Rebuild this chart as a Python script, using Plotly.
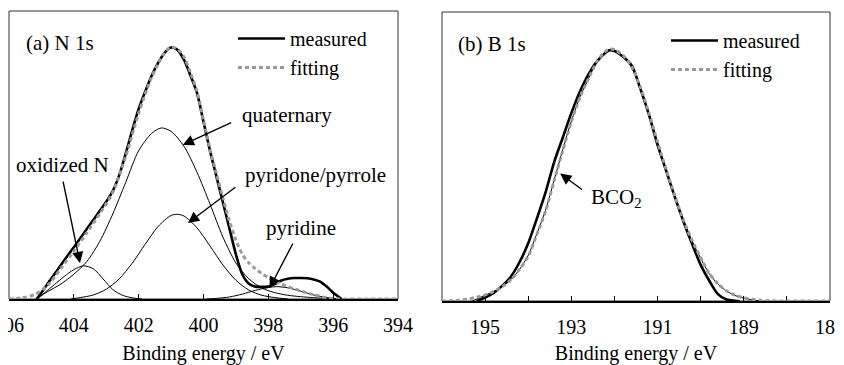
import plotly.graph_objects as go

# ---------------- N 1s (panel a) ----------------
n_meas_e = [405.15, 405.0, 404.8, 404.6, 404.4, 404.2, 404.0, 403.8, 403.6, 403.4, 403.2,
            403.0, 402.8, 402.6, 402.4, 402.2, 402.0, 401.8, 401.6, 401.4, 401.2, 401.0,
            400.8, 400.6, 400.4, 400.2, 400.0, 399.8, 399.6, 399.4, 399.2, 399.0, 398.8,
            398.6, 398.4, 398.2, 398.0, 397.8, 397.6, 397.4, 397.2, 397.0, 396.8, 396.6,
            396.4, 396.2, 396.0, 395.8, 395.74]
n_meas_i = [0.0, 2.2, 5.5, 8.6, 11.8, 14.9, 18.0, 21.1, 24.3, 27.4, 30.6,
            33.8, 37.5, 43.0, 50.5, 58.5, 66.0, 72.0, 77.5, 82.0, 85.5, 87.3,
            86.5, 83.0, 77.5, 71.5, 61.5, 51.5, 42.5, 33.5, 24.5, 15.5, 8.5,
            5.3, 4.3, 4.2, 4.3, 5.2, 6.4, 7.0, 7.3, 7.3, 7.2, 6.8,
            6.0, 4.3, 2.2, 0.5, 0.0]

n_fit_e = [406.0, 405.6, 405.2, 404.8, 404.4, 404.0, 403.6, 403.2, 402.8, 402.4, 402.0,
           401.6, 401.2, 401.0, 400.8, 400.6, 400.4, 400.2, 400.0, 399.8, 399.6, 399.4,
           399.2, 399.0, 398.8, 398.6, 398.4, 398.2, 398.0, 397.8, 397.6, 397.4, 397.2,
           397.0, 396.8, 396.6, 396.4, 396.2, 396.0, 395.6, 395.0, 394.5, 394.0]
n_fit_i = [0.0, 0.4, 1.6, 4.8, 10.6, 16.6, 23.0, 29.6, 37.0, 49.5, 64.5,
           77.0, 85.5, 87.5, 86.8, 84.0, 78.5, 72.0, 62.0, 52.0, 43.5, 35.0,
           27.0, 20.5, 15.5, 12.5, 10.5, 8.8, 7.4, 6.2, 5.2, 4.3, 3.5,
           2.8, 2.1, 1.5, 0.9, 0.4, 0.1, 0.0, 0.0, 0.0, 0.0]

n_quat_e = [405.15, 404.8, 404.4, 404.0, 403.6, 403.2, 402.8, 402.4, 402.0, 401.6, 401.3,
            401.0, 400.6, 400.2, 399.8, 399.4, 399.0, 398.6, 398.2, 397.8, 397.4, 397.0,
            396.6, 396.2, 395.8]
n_quat_i = [0.0, 2.6, 5.2, 8.6, 13.0, 20.0, 29.5, 40.5, 51.5, 57.5, 59.4,
            58.2, 53.0, 44.0, 33.0, 21.5, 12.5, 7.0, 3.8, 2.2, 1.3, 0.8,
            0.45, 0.2, 0.0]

n_oxid_e = [405.15, 404.9, 404.6, 404.3, 404.0, 403.7, 403.4, 403.1, 402.8, 402.5, 402.2, 401.9]
n_oxid_i = [0.0, 2.2, 5.0, 7.8, 10.2, 11.5, 10.5, 7.0, 3.3, 1.3, 0.4, 0.0]

n_pyrd_e = [404.1, 403.8, 403.4, 403.0, 402.6, 402.2, 401.8, 401.4, 401.0, 400.8, 400.6,
            400.2, 399.8, 399.4, 399.0, 398.6, 398.2, 397.8, 397.4]
n_pyrd_i = [0.0, 0.5, 1.4, 3.4, 7.0, 12.4, 19.0, 25.2, 29.0, 29.4, 28.8,
            24.7, 18.4, 11.8, 6.5, 3.1, 1.3, 0.5, 0.0]

n_pyri_e = [399.9, 399.6, 399.2, 398.8, 398.4, 398.0, 397.75, 397.4, 397.0, 396.6, 396.2, 395.8]
n_pyri_i = [0.0, 0.2, 0.7, 1.7, 3.0, 4.0, 4.3, 3.9, 2.7, 1.4, 0.5, 0.0]

n_tickvals = [406, 404, 402, 400, 398, 396, 394]
n_ticktext = ["406", "404", "402", "400", "398", "396", "394"]

# ---------------- B 1s (panel b) ----------------
b_meas_e = [195.2, 195.0, 194.8, 194.6, 194.4, 194.2, 194.0, 193.8, 193.6, 193.4, 193.2,
            193.0, 192.8, 192.6, 192.4, 192.2, 192.1, 192.0, 191.8, 191.6, 191.4, 191.2,
            191.0, 190.8, 190.6, 190.4, 190.2, 190.0, 189.8, 189.6, 189.4, 189.2, 189.1]
b_meas_i = [0.0, 1.2, 2.8, 5.3, 8.5, 13.5, 20.0, 28.5, 37.5, 48.0, 56.5,
            65.0, 72.5, 78.5, 83.0, 86.0, 86.8, 86.5, 84.5, 81.5, 73.5, 64.5,
            54.0, 45.0, 36.0, 27.5, 19.8, 12.5, 7.0, 2.4, 0.5, 0.1, 0.0]

b_fit_e = [196.0, 195.8, 195.6, 195.4, 195.2, 195.0, 194.8, 194.6, 194.4, 194.2, 194.0,
           193.8, 193.6, 193.4, 193.2, 193.0, 192.8, 192.6, 192.4, 192.2, 192.1, 192.0,
           191.8, 191.6, 191.4, 191.2, 191.0, 190.8, 190.6, 190.4, 190.2, 190.0, 189.8,
           189.6, 189.4, 189.2, 189.0, 188.8, 188.6, 188.4, 188.0, 187.5, 187.0]
b_fit_i = [0.0, 0.1, 0.3, 0.7, 1.3, 2.1, 3.3, 5.0, 7.4, 11.0, 15.5,
           23.0, 31.0, 41.5, 52.0, 62.0, 70.5, 77.0, 83.0, 86.5, 87.2, 87.0,
           85.0, 81.0, 74.0, 65.0, 55.0, 45.5, 36.5, 28.0, 21.0, 15.0, 9.5,
           6.0, 3.5, 2.0, 1.1, 0.6, 0.3, 0.1, 0.0, 0.0, 0.0]

b_bco2_e = [195.3, 195.0, 194.8, 194.6, 194.4, 194.2, 194.0, 193.8, 193.6, 193.4, 193.2,
            193.0, 192.8, 192.6, 192.4, 192.2, 192.1, 192.0, 191.8, 191.6, 191.4, 191.2,
            191.0, 190.8, 190.6, 190.4, 190.2, 190.0, 189.8, 189.6, 189.4, 189.2, 189.0,
            188.8, 188.6]
b_bco2_i = [0.0, 2.0, 3.3, 5.0, 7.4, 11.0, 15.8, 23.3, 31.3, 41.8, 52.3,
            62.2, 70.6, 77.0, 83.0, 86.4, 87.0, 86.8, 84.8, 80.8, 73.8, 64.8,
            54.8, 45.3, 36.3, 27.8, 20.8, 14.8, 9.4, 5.9, 3.4, 1.9, 1.0,
            0.4, 0.0]

b_tickvals = [196, 195, 194, 193, 192, 191, 190, 189, 188, 187]
b_ticktext = ["", "195", "", "193", "", "191", "", "189", "", "187"]

FONT = "Liberation Serif, Times New Roman, serif"
GRAY = "#9a9a9a"

fig = go.Figure()


def thin(x, y, xa, ya):
    fig.add_trace(go.Scatter(x=x, y=y, mode="lines", xaxis=xa, yaxis=ya,
                             line=dict(color="black", width=1, shape="spline", smoothing=0.8),
                             showlegend=False, hoverinfo="skip"))


# panel a components
thin(n_quat_e, n_quat_i, "x", "y")
thin(n_oxid_e, n_oxid_i, "x", "y")
thin(n_pyrd_e, n_pyrd_i, "x", "y")
thin(n_pyri_e, n_pyri_i, "x", "y")
fig.add_trace(go.Scatter(x=n_meas_e, y=n_meas_i, mode="lines", name="measured",
                         line=dict(color="black", width=2.6, shape="spline", smoothing=0.8),
                         xaxis="x", yaxis="y", legend="legend", legendgroup="m1"))
fig.add_trace(go.Scatter(x=n_fit_e, y=n_fit_i, mode="lines", name="fitting",
                         line=dict(color=GRAY, width=3, dash="4px,3px", shape="spline", smoothing=0.8),
                         xaxis="x", yaxis="y", legend="legend", legendgroup="f1"))

# panel b
thin(b_bco2_e, b_bco2_i, "x2", "y2")
fig.add_trace(go.Scatter(x=b_meas_e, y=b_meas_i, mode="lines", name="measured",
                         line=dict(color="black", width=2.6, shape="spline", smoothing=0.8),
                         xaxis="x2", yaxis="y2", legend="legend2", legendgroup="m2"))
fig.add_trace(go.Scatter(x=b_fit_e, y=b_fit_i, mode="lines", name="fitting",
                         line=dict(color=GRAY, width=3, dash="4px,3px", shape="spline", smoothing=0.8),
                         xaxis="x2", yaxis="y2", legend="legend2", legendgroup="f2"))

OFF = 8  # the page places the figure 8px right and down
W, H = 844 - OFF, 365 - OFF
xa_common = dict(showgrid=False, zeroline=False, showline=True, linecolor="black", linewidth=2,
                 ticks="inside", ticklen=5, tickwidth=1, tickcolor="black",
                 tickfont=dict(family=FONT, size=20, color="black"), ticklabelstandoff=7,
                 ticklabeloverflow="allow", automargin=False,
                 layer="below traces", fixedrange=True,
                 title=dict(text="Binding energy / eV", font=dict(family=FONT, size=20, color="black"),
                            standoff=14))
ya_common = dict(showgrid=False, zeroline=False, showline=False, showticklabels=False,
                 ticks="", range=[0, 100], fixedrange=True, automargin=False)

leg_common = dict(font=dict(family=FONT, size=20, color="black"), bgcolor="rgba(0,0,0,0)",
                  borderwidth=0, xanchor="left", yanchor="top", traceorder="grouped",
                  tracegroupgap=0, itemwidth=47)


def px_x(p):
    return (p - OFF) / W


def px_y(p):
    return (H - (p - OFF)) / H


fig.update_layout(
    template="none",
    width=W, height=H, margin=dict(l=0, r=0, t=0, b=0, autoexpand=False),
    paper_bgcolor="white", plot_bgcolor="white",
    font=dict(family=FONT, color="black"),
    xaxis=dict(domain=[px_x(9), px_x(398)], range=[406, 394], anchor="y",
               tickvals=n_tickvals, ticktext=n_ticktext, **xa_common),
    yaxis=dict(domain=[px_y(299), px_y(11)], anchor="x", **ya_common),
    xaxis2=dict(domain=[px_x(442), px_x(830)], range=[196, 187], anchor="y2",
                tickvals=b_tickvals, ticktext=b_ticktext, **xa_common),
    yaxis2=dict(domain=[px_y(301), px_y(12)], anchor="x2", **ya_common),
    legend=dict(x=px_x(233), y=px_y(19), **leg_common),
    legend2=dict(x=px_x(666), y=px_y(21), **leg_common),
    showlegend=True,
)

# frames
for xr, yr in (("x domain", "y domain"), ("x2 domain", "y2 domain")):
    fig.add_shape(type="rect", xref=xr, yref=yr, x0=0, x1=1, y0=0, y1=1,
                  line=dict(color="#333333", width=1), layer="below")

afont = dict(family=FONT, size=21, color="black")


def label(text, x, y, xa, ya, xanchor="left"):
    fig.add_annotation(text=text, x=x, y=y, xref=xa, yref=ya, showarrow=False,
                       xanchor=xanchor, yanchor="middle", font=afont)


def arrow(x, y, ax, ay, xa, ya):
    fig.add_annotation(text="", x=x, y=y, ax=ax, ay=ay, xref=xa, yref=ya,
                       axref=xa, ayref=ya, showarrow=True, arrowhead=2,
                       arrowsize=1.6, arrowwidth=1.4, arrowcolor="black")


label("(a) N 1s", 405.55, 89.0, "x", "y")
label("quaternary", 398.88, 64.0, "x", "y")
arrow(400.64, 53.5, 399.10, 61.5, "x", "y")
label("oxidized N", 404.35, 46.5, "x", "y", xanchor="center")
arrow(403.81, 12.5, 404.34, 41.3, "x", "y")
label("pyridone/pyrrole", 398.79, 43.0, "x", "y")
arrow(400.48, 26.4, 398.97, 39.2, "x", "y")
label("pyridine", 396.99, 24.7, "x", "y", xanchor="center")
arrow(397.96, 3.8, 397.22, 19.8, "x", "y")

label("(b) B 1s", 195.67, 89.0, "x2", "y2")
label("BCO<sub>2</sub>", 192.6, 35.8, "x2", "y2")
arrow(193.26, 44.1, 192.72, 38.2, "x2", "y2")

fig.write_html("out.html")
